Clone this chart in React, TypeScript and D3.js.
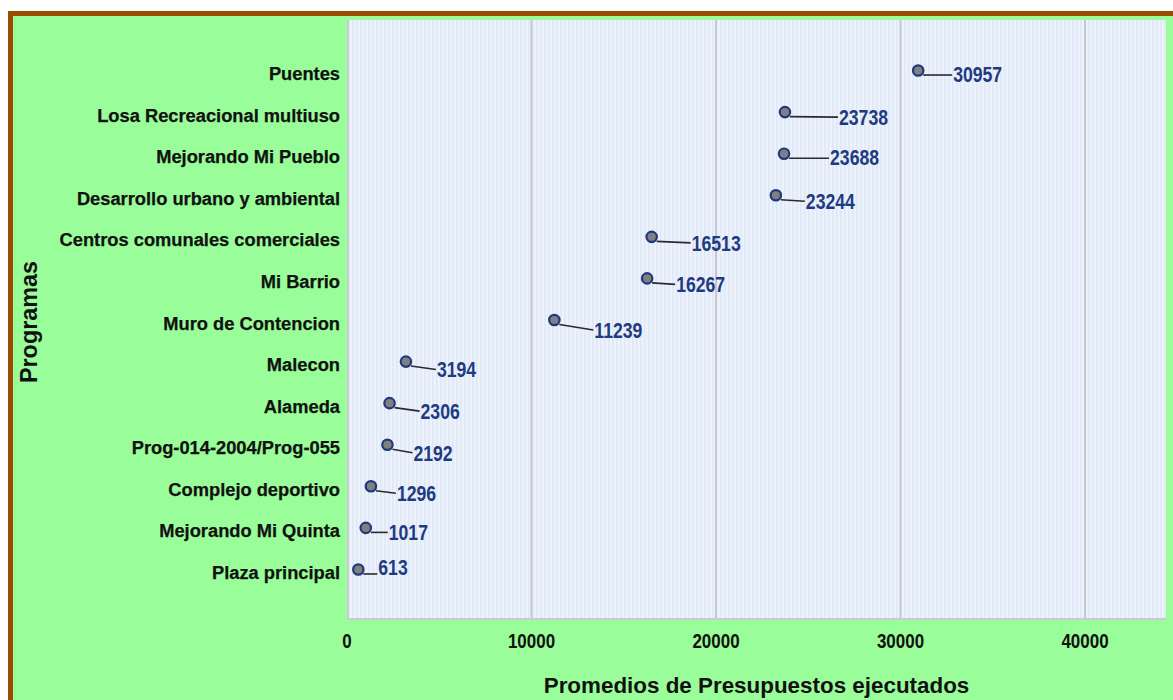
import React from "react";
import * as d3 from "d3";

const categories = [
  "Puentes",
  "Losa Recreacional multiuso",
  "Mejorando Mi Pueblo",
  "Desarrollo urbano y ambiental",
  "Centros comunales comerciales",
  "Mi Barrio",
  "Muro de Contencion",
  "Malecon",
  "Alameda",
  "Prog-014-2004/Prog-055",
  "Complejo deportivo",
  "Mejorando Mi Quinta",
  "Plaza principal",
];
const values = [30957, 23738, 23688, 23244, 16513, 16267, 11239, 3194, 2306, 2192, 1296, 1017, 613];
const xTicks = [0, 10000, 20000, 30000, 40000];
const xTitle = "Promedios de Presupuestos ejecutados";
const yTitle = "Programas";

// label placement offsets (layout, px) from point to label left / center
const labelDx = [35, 54, 46, 30, 40, 29, 40, 31, 31, 26, 26, 23, 20];
const labelDy = [4, 5, 3.5, 6, 6, 6, 10, 8, 8, 8, 7, 4, -2.5];

const W = 1173;
const H = 700;
const plot = { left: 347, right: 1166, top: 20, bottom: 620 };
const SANS = "'Liberation Sans', Arial, Helvetica, sans-serif";

export default function App() {
  const x = d3.scaleLinear().domain([0, 44390]).range([plot.left, plot.right]);
  const y = d3.scalePoint<string>().domain(categories).range([plot.top, plot.bottom]).padding(1.215);

  return (
    <svg width={W} height={H} style={{ position: "absolute", left: 0, top: 0, display: "block" }}>
      <defs>
        <pattern id="stripes" width="4" height="10" patternUnits="userSpaceOnUse">
          <rect width="4" height="10" fill="#ecf2fc" />
          <rect x="0" width="1.6" height="10" fill="#e0e8f7" />
        </pattern>
      </defs>
      <rect x={0} y={0} width={W} height={H} fill="#ffffff" />
      <rect x={8} y={11} width={W + 20} height={H + 20} fill="#994c00" />
      <rect x={13} y={16} width={W + 20} height={H + 20} fill="#99fe99" />

      {/* plot area */}
      <rect x={plot.left} y={plot.top} width={plot.right - plot.left} height={plot.bottom - plot.top} fill="url(#stripes)" />
      {xTicks.filter((t) => t > 0).map((t) => (
        <line key={t} x1={x(t)} x2={x(t)} y1={plot.top} y2={plot.bottom} stroke="#c6c8cc" strokeWidth={2} />
      ))}
      <line x1={plot.left + 1} x2={plot.left + 1} y1={plot.top} y2={plot.bottom} stroke="#c9ccd3" strokeWidth={2} />
      <line x1={plot.left} x2={plot.right} y1={plot.bottom - 1} y2={plot.bottom - 1} stroke="#c9ccd3" strokeWidth={2} />

      {/* category labels */}
      {categories.map((c) => (
        <text key={c} x={340} y={(y(c) as number) + 9.5} textAnchor="end" fontFamily={SANS} fontWeight="bold" fontSize={18.3} fill="#111" stroke="#111" strokeWidth={0.25}>
          {c}
        </text>
      ))}

      {/* points, leader lines, value labels */}
      {categories.map((c, i) => {
        const px = x(values[i]);
        const py = y(c) as number;
        const tx = px + labelDx[i];
        const tc = py + labelDy[i];
        const ly = Math.max(tc, py + 4.5);
        return (
          <g key={c}>
            <line x1={px + 5} y1={py + 4.5} x2={tx - 1} y2={ly} stroke="#2a2a2a" strokeWidth={1.6} />
            <circle cx={px} cy={py} r={5.2} fill="#808080" stroke="#1f3a7c" strokeWidth={2.2} />
            <text
              transform={`translate(${tx}, ${tc + 7.8}) scale(0.82, 1)`}
              fontFamily={SANS}
              fontWeight="bold"
              fontSize={21.5}
              fill="#1f3a80"
            >
              {d3.format("d")(values[i])}
            </text>
          </g>
        );
      })}

      {/* x tick labels */}
      {xTicks.map((t) => (
        <text
          key={t}
          transform={`translate(${x(t)}, 648) scale(0.87, 1)`}
          textAnchor="middle"
          fontFamily={SANS}
          fontWeight="bold"
          fontSize={19.5}
          fill="#111"
        >
          {t}
        </text>
      ))}

      <text x={(plot.left + plot.right) / 2} y={693} textAnchor="middle" fontFamily={SANS} fontWeight="bold" fontSize={22.4} fill="#111">
        {xTitle}
      </text>
      <text
        transform={`translate(36.5, ${(plot.top + plot.bottom) / 2 + 2}) rotate(-90)`}
        textAnchor="middle"
        fontFamily={SANS}
        fontWeight="bold"
        fontSize={23.4}
        fill="#111"
      >
        {yTitle}
      </text>
    </svg>
  );
}
